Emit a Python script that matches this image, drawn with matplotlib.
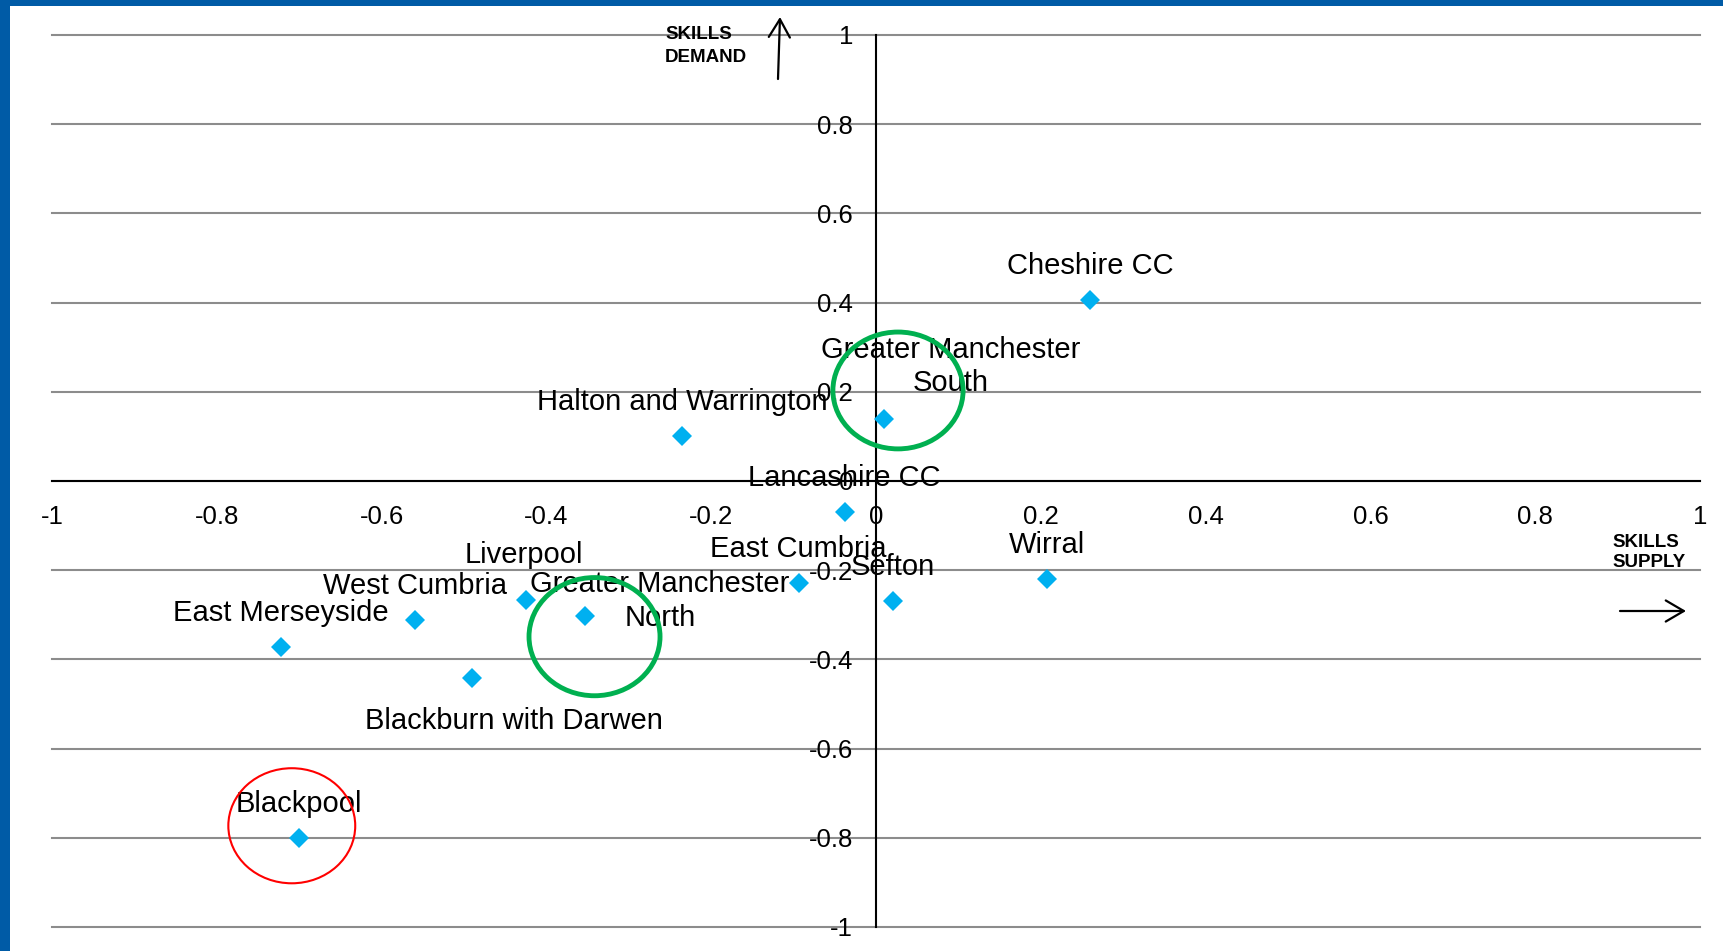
import matplotlib
matplotlib.use("Agg")
import matplotlib.pyplot as plt
from matplotlib.patches import Ellipse, Rectangle

plt.rcParams["font.family"] = ["Liberation Sans", "DejaVu Sans"]

# ---- data -------------------------------------------------------------
areas = [
    "Cheshire CC",
    "Greater Manchester\nSouth",
    "Halton and Warrington",
    "Lancashire CC",
    "East Cumbria",
    "Sefton",
    "Wirral",
    "Liverpool",
    "Greater Manchester\nNorth",
    "West Cumbria",
    "East Merseyside",
    "Blackburn with Darwen",
    "Blackpool",
]
skills_supply = [0.26, 0.01, -0.235, -0.038, -0.094, 0.021, 0.207,
                 -0.425, -0.353, -0.559, -0.722, -0.49, -0.70]
skills_demand = [0.405, 0.14, 0.10, -0.07, -0.228, -0.27, -0.22,
                 -0.267, -0.303, -0.311, -0.373, -0.442, -0.80]

tick_values = [-1, -0.8, -0.6, -0.4, -0.2, 0, 0.2, 0.4, 0.6, 0.8, 1]
tick_labels = ["-1", "-0.8", "-0.6", "-0.4", "-0.2", "0",
               "0.2", "0.4", "0.6", "0.8", "1"]

# ---- styling ----------------------------------------------------------
W, H, DPI = 1724, 951, 100
PX = 72.0 / DPI  # pixels -> points
marker_color = "#00B0F0"
grid_color = "#8C8C8C"
frame_blue = "#005BA6"
label_size = 21
tick_size = 18.5
caption_size = 13.5

# label offsets from their point, in pixels (default: centred above)
default_offset = (0, 34)
label_offsets = {
    "Greater Manchester\nSouth": (66, 52),
    "Greater Manchester\nNorth": (75, 15),
    "Liverpool": (-2, 45),
    "Blackburn with Darwen": (42, -43),
}

fig = plt.figure(figsize=(W / DPI, H / DPI), dpi=DPI)
fig.patch.set_facecolor("white")

# blue frame along the top and the left edge
fig.patches.append(Rectangle((0, 1 - 6 / H), 1, 6 / H, transform=fig.transFigure,
                             facecolor=frame_blue, edgecolor="none", zorder=0))
fig.patches.append(Rectangle((0, 0), 10 / W, 1, transform=fig.transFigure,
                             facecolor=frame_blue, edgecolor="none", zorder=0))

ax = fig.add_axes([52 / W, 24 / H, 1648 / W, 892 / H])
ax.set_xlim(-1, 1)
ax.set_ylim(-1, 1)
ax.set_facecolor("none")

# axes crossing at the origin
for side in ("top", "right"):
    ax.spines[side].set_visible(False)
ax.spines["left"].set_position("zero")
ax.spines["bottom"].set_position("zero")
for side in ("left", "bottom"):
    ax.spines[side].set_linewidth(1.5)
    ax.spines[side].set_color("black")
    ax.spines[side].set_zorder(2.5)

ax.set_xticks(tick_values)
ax.set_xticklabels(tick_labels)
ax.set_yticks(tick_values)
ax.set_yticklabels(tick_labels)
ax.tick_params(axis="x", length=0, pad=17, labelsize=tick_size)
ax.tick_params(axis="y", length=0, pad=16.5, labelsize=tick_size)

# horizontal gridlines
ax.yaxis.grid(True, color=grid_color, linewidth=1.5)
ax.xaxis.grid(False)
ax.set_axisbelow(True)
for gl in ax.get_ygridlines():
    gl.set_clip_on(False)

# points
ax.plot(skills_supply, skills_demand, linestyle="none", marker="D",
        markersize=10.5, color=marker_color, markeredgewidth=0,
        zorder=3, clip_on=False)

# point labels
for name, x, y in zip(areas, skills_supply, skills_demand):
    dx, dy = label_offsets.get(name, default_offset)
    ax.annotate(name, (x, y), xytext=(dx * PX, dy * PX),
                textcoords="offset points", ha="center", va="center",
                multialignment="center", fontsize=label_size,
                linespacing=1.25, color="black", zorder=4,
                annotation_clip=False)

# highlight rings
ax.add_patch(Ellipse((0.0267, 0.203), 0.158, 0.262, fill=False,
                     edgecolor="#00B050", linewidth=3.5, zorder=5, clip_on=False))
ax.add_patch(Ellipse((-0.3416, -0.349), 0.159, 0.265, fill=False,
                     edgecolor="#00B050", linewidth=3.5, zorder=5, clip_on=False))
ax.add_patch(Ellipse((-0.709, -0.773), 0.154, 0.258, fill=False,
                     edgecolor="#FF0000", linewidth=1.5, zorder=5, clip_on=False))

# axis captions with arrows
fig.text(665 / W, (H - 39.3) / H, "SKILLS", fontsize=caption_size,
         fontweight="bold", ha="left", va="baseline")
fig.text(665 / W, (H - 62) / H, "DEMAND", fontsize=caption_size,
         fontweight="bold", ha="left", va="baseline")
fig.text(1612 / W, (H - 546.7) / H, "SKILLS", fontsize=caption_size,
         fontweight="bold", ha="left", va="baseline")
fig.text(1612 / W, (H - 567.3) / H, "SUPPLY", fontsize=caption_size,
         fontweight="bold", ha="left", va="baseline")

arrow_kw = dict(arrowstyle="->,head_length=0.65,head_width=0.38",
                color="black", linewidth=1.6, mutation_scale=20,
                shrinkA=0, shrinkB=0)
ax.annotate("", xy=(780, H - 17), xytext=(778, H - 79),
            xycoords="figure pixels", textcoords="figure pixels",
            arrowprops=arrow_kw, annotation_clip=False)
ax.annotate("", xy=(1686, H - 611), xytext=(1620, H - 611),
            xycoords="figure pixels", textcoords="figure pixels",
            arrowprops=arrow_kw, annotation_clip=False)

fig.savefig("out.png", dpi=DPI, facecolor="white")
